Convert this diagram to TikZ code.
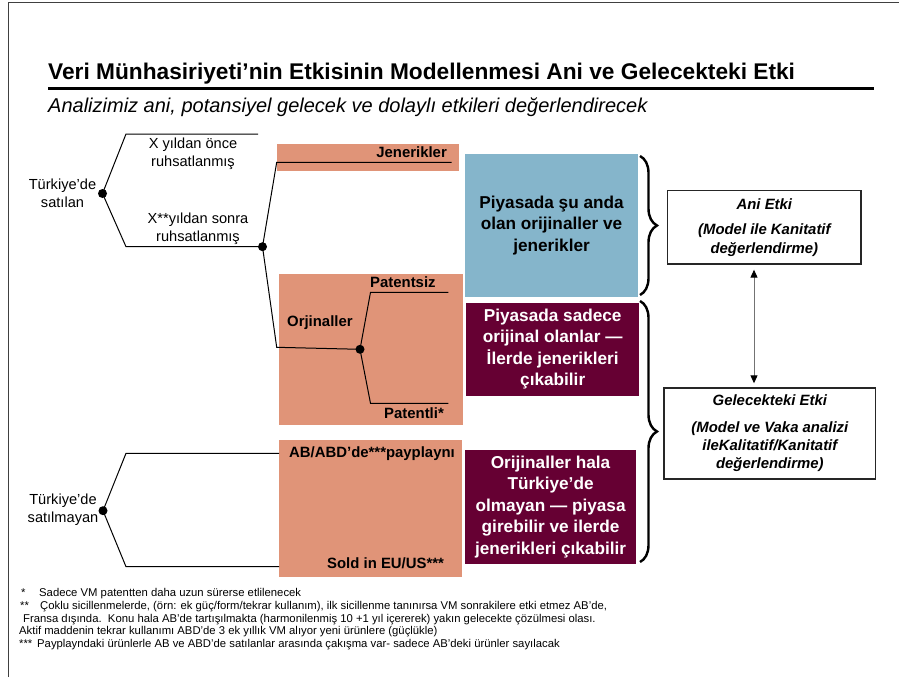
\documentclass[tikz,border=0pt]{standalone}
\usepackage{fontspec}
\setmainfont{Liberation Sans}
\usetikzlibrary{arrows.meta,decorations.pathreplacing}
\definecolor{salmon}{HTML}{E09478}
\definecolor{skyblue}{HTML}{85B5CB}
\definecolor{wine}{HTML}{660033}
\begin{document}
\begin{tikzpicture}[x=1pt,y=-1pt,
  lbl/.style={font=\fontsize{14.6}{18}\selectfont, align=center, inner sep=0},
  blbl/.style={font=\bfseries\fontsize{14.9}{17}\selectfont, inner sep=0, anchor=base west},
  junction/.style={circle, fill=black, minimum size=9pt, inner sep=0},
  branch/.style={line width=1pt},
  panel/.style={fill=salmon, draw=none, anchor=north west, inner sep=0},
  infobox/.style={font=\bfseries\fontsize{17.2}{21.4}\selectfont, align=center, inner sep=0, anchor=north west},
  impact/.style={draw=black!85, line width=1.4pt, fill=white, anchor=north west,
    font=\bfseries\itshape\fontsize{14.9}{18.3}\selectfont, align=center, inner sep=0},
  bracket/.style={line width=2.4pt, decorate, decoration={brace, amplitude=17pt}},
  note/.style={font=\fontsize{11.3}{13}\selectfont, anchor=base west, inner sep=0},
]
\useasboundingbox (0,0) rectangle (899,677);

% page frame
\draw[black!75, line width=1pt] (8.5,677) -- (8.5,2.5) -- (899,2.5);

% heading
\node[anchor=base west, inner sep=0, font=\bfseries\fontsize{22.7}{26}\selectfont] (title) at (48,80)
  {Veri Münhasiriyeti’nin Etkisinin Modellenmesi Ani ve Gelecekteki Etki};
\draw[line width=3pt] (48,88.5) -- (874,88.5);
\node[anchor=base west, inner sep=0, font=\itshape\fontsize{20}{24}\selectfont] (subtitle) at (48,112)
  {Analizimiz ani, potansiyel gelecek ve dolaylı etkileri değerlendirecek};

% coloured panels
\node[panel, minimum width=182pt, minimum height=26.7pt] (genpanel) at (277,144) {};
\node[panel, minimum width=184pt, minimum height=151.7pt] (origpanel) at (279,273.3) {};
\node[panel, minimum width=183pt, minimum height=137.4pt] (abpanel) at (279,439.3) {};

% junction points
\coordinate (j1) at (102.5,193.5);
\coordinate (j2) at (262.5,246.7);
\coordinate (j3) at (360,349.3);
\coordinate (j4) at (103,510.7);
\coordinate (a1) at (126,134);    \coordinate (a2) at (258,134);
\coordinate (b1) at (126,246.7);
\coordinate (c1) at (276.7,162.3); \coordinate (c2) at (451.7,162.3);
\coordinate (d1) at (276.7,347.3);
\coordinate (e1) at (370.5,292.3); \coordinate (e2) at (448.3,292.3);
\coordinate (f1) at (370.5,403.3); \coordinate (f2) at (448.3,403.3);
\coordinate (g1) at (126,453.3);  \coordinate (g2) at (279,453.3);
\coordinate (h1) at (126,566.7);  \coordinate (h2) at (279,566.7);

% branches
\draw[branch] (j1) -- (a1) -- (a2);
\draw[branch] (j1) -- (b1) -- (j2);
\draw[branch] (j2) -- (c1) -- (c2);
\draw[branch] (j2) -- (d1) -- (j3);
\draw[branch] (j3) -- (e1) -- (e2);
\draw[branch] (j3) -- (f1) -- (f2);
\draw[branch] (j4) -- (g1) -- (g2);
\draw[branch] (j4) -- (h1) -- (h2);

\node[junction] (dot1) at (j1) {};
\node[junction] (dot2) at (j2) {};
\node[junction] (dot3) at (j3) {};
\node[junction] (dot4) at (j4) {};

% tree labels
\node[lbl] (sold) at (62.5,193) {Türkiye’de\\satılan};
\node[lbl] (before) at (193,154) {X yıldan önce\\ruhsatlanmış};
\node[lbl] (after) at (198,229) {X**yıldan sonra\\ruhsatlanmış};
\node[lbl] (notsold) at (63,510) {Türkiye’de\\satılmayan};

\node[blbl, anchor=base east] (generics) at (447,157) {Jenerikler};
\node[blbl] (originals) at (287,326) {Orjinaller};
\node[blbl] (nopatent) at (370,287) {Patentsiz};
\node[blbl] (patent) at (384,418) {Patentli*};
\node[blbl] (pipeline) at (289,457) {AB/ABD’de***payplaynı};
\node[blbl] (euus) at (327,568) {Sold in EU/US***};

% market situation boxes
\node[infobox, fill=skyblue, minimum width=172.7pt, minimum height=142.7pt] (now) at (465,154)
  {Piyasada şu anda\\olan orijinaller ve\\jenerikler};
\node[infobox, fill=wine, text=white, minimum width=173pt, minimum height=93.4pt] (onlyorig) at (466,302.3)
  {Piyasada sadece\\orijinal olanlar —\\İlerde jenerikleri\\çıkabilir};
\node[infobox, fill=wine, text=white, minimum width=170.7pt, minimum height=113.3pt] (notyet) at (465,450)
  {Orijinaller hala\\Türkiye’de\\olmayan — piyasa\\girebilir ve ilerde\\jenerikleri çıkabilir};

% braces
\draw[bracket] (640,156) -- (640,295);
\draw[bracket] (640,301) -- (640,562);

% impact boxes
\node[impact, minimum width=193.3pt, minimum height=73.3pt] (ani) at (667,190)
  {Ani Etki\\[7.5pt](Model ile Kanitatif\\değerlendirme)};
\node[impact, minimum width=211.7pt, minimum height=91pt] (future) at (663.3,387.3)
  {Gelecekteki Etki\\[8pt](Model ve Vaka analizi\\ileKalitatif/Kanitatif\\değerlendirme)};
\coordinate (ax) at (754,0);
\draw[black!55, line width=1pt, shorten <=5pt, shorten >=4pt,
  {Triangle[width=7pt,length=8pt,color=black]}-{Triangle[width=7pt,length=8pt,color=black]}]
  (ani.south -| ax) -- (future.north -| ax);

% footnotes
\node[note] (n1s) at (21,596) {*};
\node[note] (n1) at (39,596) {Sadece VM patentten daha uzun sürerse etlilenecek};
\node[note] (n2s) at (20,609) {**};
\node[note] (n2) at (40,609) {Çoklu sicillenmelerde, (örn: ek güç/form/tekrar kullanım), ilk sicillenme tanınırsa VM sonrakilere etki etmez AB’de,};
\node[note] (n3) at (23,622) {Fransa dışında.\ \ Konu hala AB’de tartışılmakta (harmonilenmiş 10 +1 yıl içererek) yakın gelecekte çözülmesi olası.};
\node[note] (n4) at (19,634.5) {Aktif maddenin tekrar kullanımı ABD’de 3 ek yıllık VM alıyor yeni ürünlere (güçlükle)};
\node[note] (n5s) at (19,647) {***};
\node[note] (n5) at (37,647) {Payplayndaki ürünlerle AB ve ABD’de satılanlar arasında çakışma var- sadece AB’deki ürünler sayılacak};
\end{tikzpicture}
\end{document}
